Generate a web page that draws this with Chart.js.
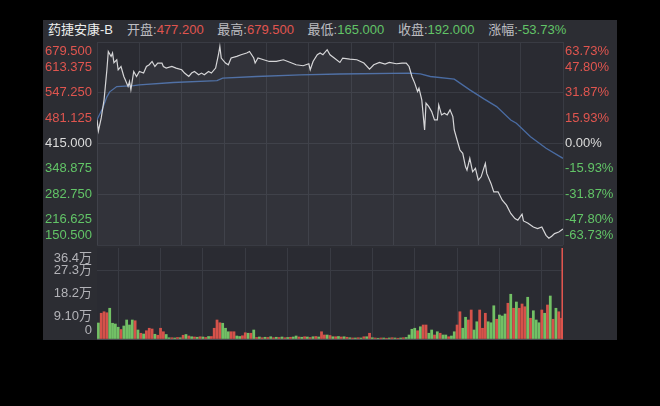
<!DOCTYPE html>
<html>
<head>
<meta charset="utf-8">
<script src="https://cdn.jsdelivr.net/npm/chart.js@4.4.1/dist/chart.umd.min.js"></script>
<style>
  body { margin: 0; background: #000; width: 660px; height: 406px; overflow: hidden; position: relative;
         font-family: "Liberation Sans", "Noto Sans CJK SC", sans-serif; }
  .panel { position: absolute; left: 43px; top: 20px; width: 574px; height: 320px; background: #2c2d33; }
  .head { position: absolute; left: 48px; top: 20px; height: 20px; line-height: 20px; font-size: 13px;
          white-space: nowrap; color: #bdbdc1; }
  .head .name { display: inline-block; width: 79px; color: #ededed; }
  .head .item { display: inline-block; width: 90.3px; }
  .up { color: #e0554f; }
  .down { color: #62c467; }
  canvas { position: absolute; left: 43px; }
</style>
</head>
<body>
<div class="panel"></div>
<div class="head" id="head"></div>
<canvas id="priceChart" width="574" height="207" style="top:40px"></canvas>
<canvas id="volChart" width="574" height="93" style="top:247px"></canvas>
<script>
const stockName = "药捷安康-B";
const quoteLabels = ["开盘", "最高", "最低", "收盘", "涨幅"];
const quoteValues = ["477.200", "679.500", "165.000", "192.000", "-53.73%"];
const prevClose = 415;

// price axis ticks (left) -> percentage computed from prevClose (right)
const priceTicks = [150.5, 216.625, 282.75, 348.875, 415, 481.125, 547.25, 613.375, 679.5];
const volTicks = [0, 9.1, 18.2, 27.3, 36.4];
const volTickLabels = ["0", "9.10万", "18.2万", "27.3万", "36.4万"];

// minutes since 9:30 (trading minutes, 330 in a day)
const minutes = [
    0, 1, 3, 5, 7, 8, 10, 11, 12, 14,
    15, 17, 19, 20, 22, 23, 24, 26, 28, 30,
    33, 35, 37, 39, 41, 43, 46, 47, 49, 53,
    56, 60, 62, 65, 67, 69, 72, 74, 76, 79,
    81, 84, 86, 87, 88, 91, 93, 95, 99, 102,
    106, 108, 111, 112, 114, 118, 122, 127, 132, 137,
    141, 146, 150, 151, 153, 156, 158, 160, 163, 165,
    168, 172, 174, 179, 184, 189, 193, 196, 200, 204,
    207, 212, 216, 219, 221, 223, 225, 227, 228, 230,
    232, 233, 235, 237, 239, 241, 242, 244, 246, 248,
    250, 252, 253, 255, 257, 259, 261, 262, 264, 266,
    268, 270, 272, 275, 276, 279, 281, 284, 287, 290,
    293, 296, 298, 301, 302, 305, 309, 312, 315, 318,
    320, 322, 324, 327, 330
];
const prices = [
    477.2, 447.7, 481.6, 528.7, 607.1, 654.9, 641.9, 650.7, 625.4, 633.2,
    607.1, 615.7, 589.6, 581.0, 563.5, 576.5, 554.8, 602.7, 589.6, 602.7,
    598.5, 615.7, 620.2, 628.8, 615.7, 624.6, 624.6, 615.7, 611.5, 615.7,
    611.5, 607.1, 598.5, 589.6, 598.5, 602.7, 594.0, 598.5, 594.0, 602.7,
    598.5, 611.5, 646.3, 668.0, 637.7, 624.6, 620.2, 637.7, 641.9, 646.3,
    650.7, 654.9, 637.7, 624.6, 637.7, 633.2, 628.8, 628.8, 633.2, 626.2,
    620.2, 617.6, 622.8, 607.1, 628.8, 646.3, 650.7, 646.3, 659.4, 646.3,
    637.7, 626.2, 637.7, 635.1, 633.2, 624.6, 608.9, 620.2, 626.2, 622.0,
    626.2, 622.8, 624.6, 624.6, 615.7, 589.6, 572.3, 550.4, 559.3, 528.7,
    450.3, 520.1, 511.2, 498.1, 476.4, 476.4, 515.6, 489.5, 493.9, 489.5,
    502.6, 485.0, 450.3, 424.1, 398.0, 389.4, 354.4, 345.7, 376.3, 341.3,
    350.2, 319.6, 328.2, 363.2, 337.1, 311.0, 289.0, 289.0, 267.3, 254.3,
    232.6, 219.5, 215.1, 230.7, 213.2, 208.0, 197.5, 193.4, 197.5, 175.8,
    168.0, 173.2, 180.3, 184.5, 192.0
];

const avgMinutes = [0, 4, 7, 9, 14, 26, 30, 54, 85, 89, 113, 144, 172, 222, 229, 236, 253, 264, 274, 283, 293, 297, 307, 318, 330];
const avgPrices = [477.2, 507.0, 536.5, 549.6, 563.5, 566.0, 568.0, 573.9, 579.1, 585.4, 589.6, 594.0, 596.1, 598.5, 596.6, 589.6, 582.8, 554.8, 531.3, 511.2, 476.4, 467.8, 432.8, 402.5, 376.3];

// volume per 2 minutes, in 万 ; dir 1 = up (red), -1 = down (green)
const volumes = [
    6.4, 10.3, 10.9, 10.5, 12.3, 6.3, 6.0, 4.7, 3.8, 5.2,
    7.6, 5.6, 7.6, 7.3, 3.6, 2.3, 2.0, 3.3, 4.3, 4.0,
    1.9, 1.5, 4.3, 2.9, 1.8, 0.5, 0.5, 0.4, 0.6, 0.5,
    1.5, 1.8, 1.2, 0.9, 0.8, 0.7, 0.9, 0.8, 0.6, 1.0,
    1.0, 4.3, 7.6, 6.5, 6.3, 4.3, 2.9, 2.9, 2.9, 1.2,
    1.0, 1.3, 2.5, 2.3, 2.3, 3.6, 0.6, 0.8, 0.5, 0.7,
    0.6, 0.9, 0.5, 0.7, 0.6, 0.8, 0.5, 0.6, 0.7, 0.8,
    1.2, 0.8, 0.7, 0.9, 0.8, 0.6, 0.9, 1.0, 0.8, 2.9,
    1.6, 1.6, 1.4, 0.9, 0.9, 1.0, 0.8, 0.9, 0.7, 0.5,
    0.4, 0.4, 0.5, 0.4, 0.9, 0.9, 2.3, 0.5, 0.4, 0.3,
    0.4, 0.4, 0.3, 0.4, 0.5, 0.4, 0.3, 0.4, 0.5, 0.6,
    1.6, 3.9, 4.3, 3.3, 4.9, 5.6, 5.6, 2.3, 3.6, 1.6,
    2.9, 2.3, 1.6, 1.6, 0.9, 1.2, 2.9, 5.6, 10.9, 4.3,
    8.7, 7.6, 11.6, 3.6, 6.9, 11.6, 4.3, 10.3, 6.9, 6.5,
    13.3, 7.9, 9.6, 9.2, 10.0, 14.3, 17.9, 12.3, 14.8, 12.3,
    14.0, 12.9, 16.7, 8.3, 11.3, 7.6, 6.5, 11.6, 10.3, 13.6,
    17.2, 7.9, 12.3, 10.9, 8.3
];
const volDirs = [
    -1, 1, 1, 1, -1, -1, -1, -1, 1, -1,
    -1, -1, -1, 1, -1, 1, -1, 1, 1, 1,
    -1, 1, 1, 1, -1, -1, 1, -1, 1, -1,
    1, -1, 1, -1, 1, -1, 1, -1, 1, -1,
    1, 1, 1, 1, -1, -1, -1, 1, 1, -1,
    -1, 1, 1, -1, 1, -1, 1, -1, 1, -1,
    1, -1, 1, -1, 1, -1, 1, -1, 1, -1,
    -1, 1, -1, 1, -1, 1, -1, 1, -1, 1,
    1, -1, 1, -1, 1, -1, 1, -1, 1, -1,
    1, -1, 1, -1, 1, -1, 1, -1, 1, -1,
    1, -1, 1, -1, 1, -1, 1, -1, 1, -1,
    -1, -1, -1, 1, -1, 1, 1, -1, -1, 1,
    -1, 1, -1, -1, 1, -1, -1, 1, 1, -1,
    -1, 1, 1, -1, -1, 1, 1, 1, -1, -1,
    -1, 1, -1, -1, -1, 1, -1, 1, -1, 1,
    1, 1, -1, 1, -1, -1, -1, 1, -1, 1,
    -1, 1, -1, 1, 1
];
const closeVolume = 36.4; // closing auction

const RED = "#e0554f";
const GREEN = "#62c467";
const WHITE = "#dcdcdc";
const GRID = "#393b43";
const FONT = '13px "Liberation Sans", "Noto Sans CJK SC", sans-serif';

// header
let headHtml = `<span class="name">${stockName}</span>`;
quoteLabels.forEach((lab, i) => {
    const v = parseFloat(quoteValues[i]);
    const up = i < 4 ? v > prevClose : v > 0;
    headHtml += `<span class="item">${lab}:<span class="${up ? "up" : "down"}">${quoteValues[i]}</span></span>`;
});
document.getElementById("head").innerHTML = headHtml;

function tickColor(v) {
    return v > prevClose ? RED : v < prevClose ? GREEN : WHITE;
}

const plotBg = {
    id: "plotBg",
    beforeDraw(chart) {
        const { ctx, chartArea: a } = chart;
        ctx.save();
        ctx.fillStyle = "#2a2b32";
        ctx.fillRect(a.left, a.top, a.right - a.left, a.bottom - a.top);
        ctx.restore();
    },
};

// tick texts, pulled inside the area at the top and bottom edge like the app does
const priceLabels = {
    id: "priceLabels",
    afterDraw(chart) {
        const { ctx, chartArea: a } = chart;
        const y = chart.scales.y;
        ctx.save();
        ctx.font = FONT;
        ctx.textBaseline = "middle";
        y.ticks.forEach((t) => {
            const py = Math.min(Math.max(y.getPixelForValue(t.value), a.top + 9.5), a.bottom - 9.5);
            ctx.fillStyle = tickColor(t.value);
            ctx.textAlign = "right";
            ctx.fillText(t.value.toFixed(3), a.left - 5, py);
            ctx.textAlign = "left";
            ctx.fillText((((t.value - prevClose) / prevClose) * 100).toFixed(2) + "%", a.right + 2, py);
        });
        ctx.restore();
    },
};

const volLabels = {
    id: "volLabels",
    afterDraw(chart) {
        const { ctx, chartArea: a } = chart;
        const y = chart.scales.y;
        ctx.save();
        ctx.font = FONT;
        ctx.textBaseline = "middle";
        ctx.textAlign = "right";
        ctx.fillStyle = "#b3b3b8";
        y.ticks.forEach((t, i) => {
            const py = Math.min(Math.max(y.getPixelForValue(t.value), a.top + 10), a.bottom - 9);
            ctx.fillText(volTickLabels[i], a.left - 5, py);
        });
        ctx.restore();
    },
};

const xScale = {
    type: "linear",
    min: 0,
    max: 330,
    offset: false,
    ticks: { display: false, stepSize: 30 },
    grid: { color: GRID, drawTicks: false },
    border: { display: false },
};

new Chart(document.getElementById("priceChart"), {
    type: "line",
    data: {
        datasets: [
            {
                data: minutes.map((m, i) => ({ x: m, y: prices[i] })),
                borderColor: "#d6d6d8",
                borderWidth: 1.2,
                pointRadius: 0,
                fill: "start",
                backgroundColor: "rgba(255,255,255,0.04)",
            },
            {
                data: avgMinutes.map((m, i) => ({ x: m, y: avgPrices[i] })),
                borderColor: "#4a6ca3",
                borderWidth: 1.3,
                pointRadius: 0,
                fill: false,
            },
        ],
    },
    options: {
        responsive: false,
        animation: false,
        layout: { padding: { left: 54, right: 54, top: 2, bottom: 2 } },
        plugins: { legend: { display: false }, tooltip: { enabled: false } },
        scales: {
            x: xScale,
            y: {
                min: priceTicks[0],
                max: priceTicks[priceTicks.length - 1],
                afterBuildTicks: (s) => { s.ticks = priceTicks.map((v) => ({ value: v })); },
                ticks: { display: false },
                grid: { color: (c) => (c.index % 2 === 0 ? GRID : "transparent"), drawTicks: false },
                border: { display: false },
            },
        },
    },
    plugins: [plotBg, priceLabels],
});

new Chart(document.getElementById("volChart"), {
    type: "bar",
    data: {
        datasets: [
            {
                data: volumes.map((v, i) => ({ x: 2 * i + 1, y: v })),
                backgroundColor: volDirs.map((d) => (d > 0 ? "rgba(222,84,76,0.95)" : "rgba(118,200,104,0.95)")),
                barThickness: 2.1,
                grouped: false,
            },
            {
                data: [{ x: 329.7, y: closeVolume }],
                backgroundColor: RED,
                barThickness: 1.6,
                grouped: false,
            },
        ],
    },
    options: {
        responsive: false,
        animation: false,
        layout: { padding: { left: 54, right: 54, top: 1, bottom: 1 } },
        plugins: { legend: { display: false }, tooltip: { enabled: false } },
        scales: {
            x: xScale,
            y: {
                min: 0,
                max: volTicks[volTicks.length - 1],
                afterBuildTicks: (s) => { s.ticks = volTicks.map((v) => ({ value: v })); },
                ticks: { display: false },
                grid: {
                    color: (c) => (c.tick.value === 27.3 ? GRID : c.tick.value === 0 ? "#4a4b52" : "transparent"),
                    drawTicks: false,
                },
                border: { display: false },
            },
        },
    },
    plugins: [plotBg, volLabels],
});
</script>
</body>
</html>
